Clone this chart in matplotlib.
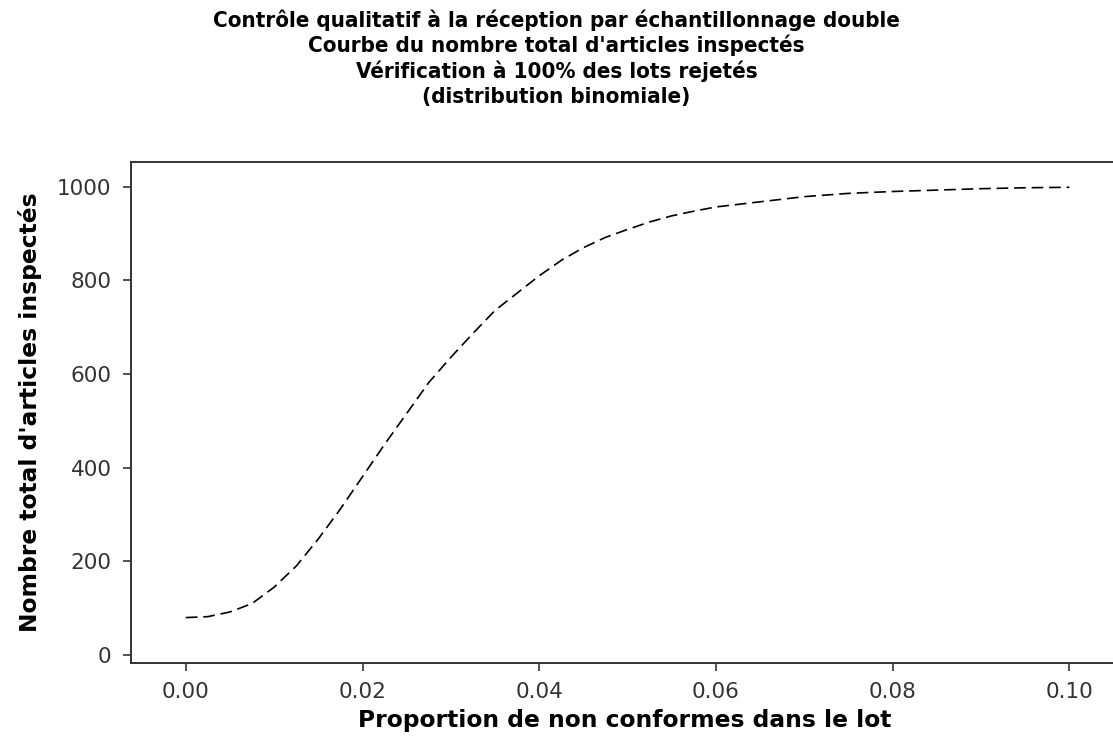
import matplotlib
matplotlib.use("Agg")
from matplotlib import pyplot as plt

# proportion non conforme p -> nombre total d'articles inspectés
proportion = [0.0, 0.0025, 0.005, 0.0075, 0.01, 0.0125, 0.015, 0.0175, 0.02,
              0.0225, 0.025, 0.0275, 0.03, 0.0325, 0.035, 0.0375, 0.04, 0.0425,
              0.045, 0.0475, 0.05, 0.0525, 0.055, 0.0575, 0.06, 0.065, 0.07,
              0.075, 0.08, 0.085, 0.09, 0.095, 0.1]
total_inspectes = [80, 82, 92, 110, 145, 190, 248, 312, 381,
                   450, 516, 582, 636, 687, 736, 773, 810, 843,
                   870, 892, 909, 925, 938, 948, 957, 968, 979,
                   986, 990, 993, 996, 998, 999]

x_ticks = [0.00, 0.02, 0.04, 0.06, 0.08, 0.10]
x_tick_labels = ["0.00", "0.02", "0.04", "0.06", "0.08", "0.10"]
y_ticks = [0, 200, 400, 600, 800, 1000]

title_lines = ["Contrôle qualitatif à la réception par échantillonnage double",
               "Courbe du nombre total d'articles inspectés",
               "Vérification à 100% des lots rejetés",
               "(distribution binomiale)"]

W, H = 1113, 740
fig = plt.figure(figsize=(W / 100, H / 100), dpi=100)
fig.patch.set_facecolor("white")
# axes box: left 131px, right beyond image edge, top 162px, bottom 663px
ax = fig.add_axes([131 / W, (H - 663) / H, (1118 - 131) / W, (663 - 162) / H])

ax.plot(proportion, total_inspectes, color="black", lw=1.2,
        linestyle=(0, (7, 3.5)))

ax.set_xlim(-0.0062, 0.1055)
ax.set_ylim(-17, 1053)
ax.set_xticks(x_ticks)
ax.set_xticklabels(x_tick_labels)
ax.set_yticks(y_ticks)

for s in ["left", "bottom", "top", "right"]:
    ax.spines[s].set_color("#333333")
    ax.spines[s].set_linewidth(1.4)
ax.tick_params(axis="both", direction="out", length=6, width=1.2,
               color="#333333", labelsize=15.5, labelcolor="#333333", pad=8)

ax.set_xlabel("Proportion de non conformes dans le lot", fontsize=16.8,
              fontweight="bold", labelpad=5)
ax.set_ylabel("Nombre total d'articles inspectés", fontsize=16.8,
              fontweight="bold", labelpad=11)

y0 = 1 - 20 / H
for i, line in enumerate(title_lines):
    fig.text(0.5, y0 - i * 25.7 / H, line, ha="center", va="center",
             fontsize=16, fontweight="bold", fontstretch="condensed")

fig.savefig("out.png", dpi=100, facecolor="white")
